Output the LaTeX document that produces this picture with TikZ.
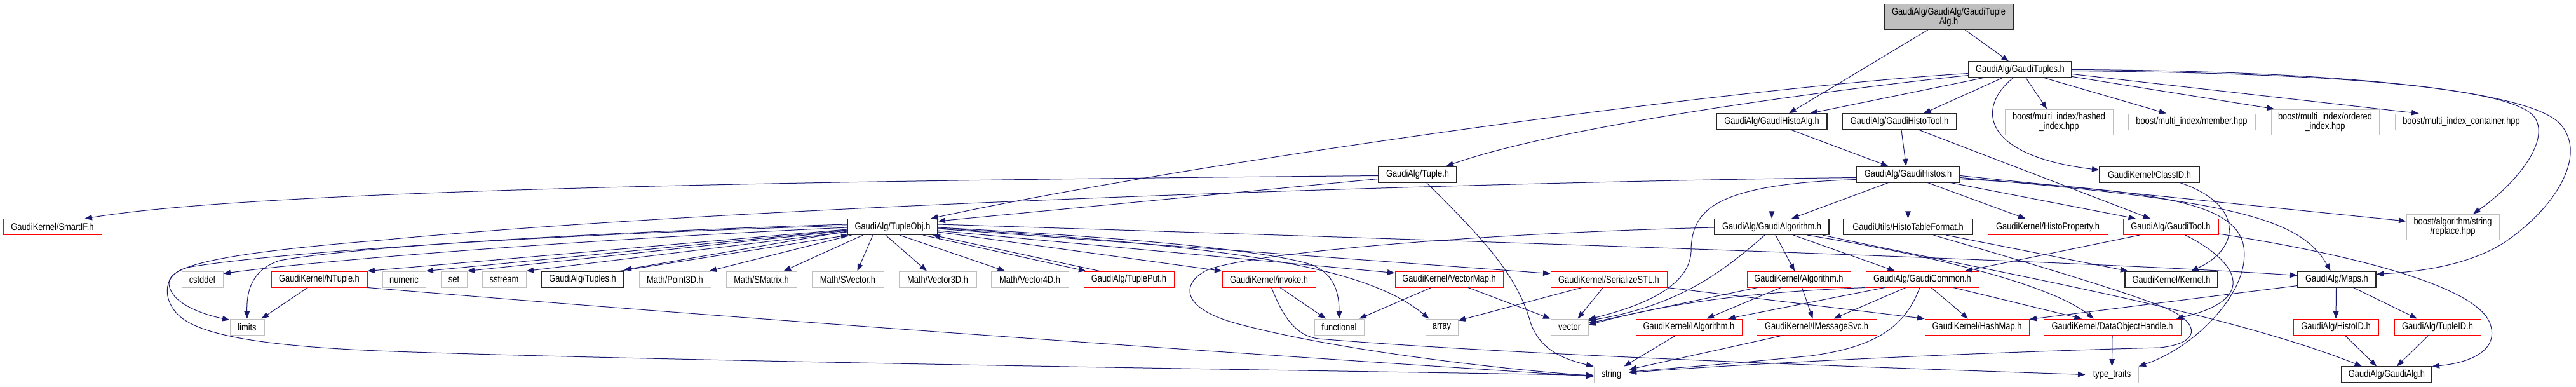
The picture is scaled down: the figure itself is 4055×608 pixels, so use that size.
\documentclass[tikz,border=0pt]{standalone}
\usepackage{fontspec}
\newfontfamily\dfont[FakeStretch=0.83]{Liberation Sans}
\usetikzlibrary{arrows.meta}
\definecolor{edgeblue}{RGB}{25,25,112}
\definecolor{extgray}{RGB}{191,191,191}
\begin{document}
\begin{tikzpicture}[x=1pt,y=-1pt,
 box/.style={draw, rectangle, inner sep=0pt, minimum height=25pt, font=\dfont\fontsize{15.5pt}{14.8pt}\selectfont, align=center, line width=1pt},
 doc/.style={box, draw=black!85, line width=1.1pt},
 trunc/.style={box, draw=red},
 ext/.style={box, draw=extgray},
 rootbox/.style={box, draw=black!85, fill=extgray, minimum height=40pt},
 dep/.style={draw=edgeblue, line width=1pt, -{Triangle[length=11.5pt,width=8.5pt]}},
]
\useasboundingbox (0,0) rectangle (4055,608);
% row A
\node[rootbox, minimum width=203pt] (root) at (3067.5,26.65) {GaudiAlg/GaudiAlg/GaudiTuple\\Alg.h};
% row B
\node[doc, minimum width=162pt] (tuples) at (3180,109.5) {GaudiAlg/GaudiTuples.h};
% row C
\node[doc, minimum width=174pt] (histoalg) at (2789,191.5) {GaudiAlg/GaudiHistoAlg.h};
\node[doc, minimum width=180pt] (histotool) at (2990,191.5) {GaudiAlg/GaudiHistoTool.h};
\node[ext, minimum width=170pt, minimum height=40pt] (hashed) at (3241,192) {boost/multi\_index/hashed\\\_index.hpp};
\node[ext, minimum width=200pt] (member) at (3450,191.5) {boost/multi\_index/member.hpp};
\node[ext, minimum width=170pt, minimum height=40pt] (ordered) at (3660,192) {boost/multi\_index/ordered\\\_index.hpp};
\node[ext, minimum width=209pt] (container) at (3874.5,191.5) {boost/multi\_index\_container.hpp};
% row D
\node[doc, minimum width=123pt] (tuple) at (2231.5,274.5) {GaudiAlg/Tuple.h};
\node[doc, minimum width=163pt] (histos) at (3003.5,274.5) {GaudiAlg/GaudiHistos.h};
\node[doc, minimum width=157pt] (classid) at (3383.5,274.5) {GaudiKernel/ClassID.h};
% row E
\node[trunc, minimum width=155pt] (smartif) at (82.5,357) {GaudiKernel/SmartIF.h};
\node[doc, minimum width=142pt] (tupleobj) at (1405,357) {GaudiAlg/TupleObj.h};
\node[doc, minimum width=180pt] (algorithm) at (2789,357) {GaudiAlg/GaudiAlgorithm.h};
\node[doc, minimum width=203pt] (htf) at (3003.5,357) {GaudiUtils/HistoTableFormat.h};
\node[trunc, minimum width=189pt] (histoprop) at (3223.5,357) {GaudiKernel/HistoProperty.h};
\node[trunc, minimum width=150pt] (gauditool) at (3417,357) {GaudiAlg/GaudiTool.h};
\node[ext, minimum width=146pt, minimum height=40pt] (replace) at (3861,357) {boost/algorithm/string\\/replace.hpp};
% row F
\node[ext, minimum width=65pt] (cstddef) at (318.5,439.5) {cstddef};
\node[trunc, minimum width=151pt] (ntuple) at (502.5,439.5) {GaudiKernel/NTuple.h};
\node[ext, minimum width=68pt] (numeric) at (636,439.5) {numeric};
\node[ext, minimum width=41pt] (set) at (714.5,439.5) {set};
\node[ext, minimum width=69pt] (sstream) at (793.5,439.5) {sstream};
\node[doc, minimum width=130pt] (tuplesh) at (917,439.5) {GaudiAlg/Tuples.h};
\node[ext, minimum width=113pt] (point3d) at (1062.5,439.5) {Math/Point3D.h};
\node[ext, minimum width=111pt] (smatrix) at (1198.5,439.5) {Math/SMatrix.h};
\node[ext, minimum width=113pt] (svector) at (1334.5,439.5) {Math/SVector.h};
\node[ext, minimum width=122pt] (vector3d) at (1476,439.5) {Math/Vector3D.h};
\node[ext, minimum width=122pt] (vector4d) at (1621,439.5) {Math/Vector4D.h};
\node[trunc, minimum width=142pt] (tupleput) at (1777,439.5) {GaudiAlg/TuplePut.h};
\node[trunc, minimum width=147pt] (invoke) at (1997.5,439.5) {GaudiKernel/invoke.h};
\node[trunc, minimum width=170pt] (vectormap) at (2281,439.5) {GaudiKernel/VectorMap.h};
\node[trunc, minimum width=183pt] (serialize) at (2532.5,439.5) {GaudiKernel/SerializeSTL.h};
\node[trunc, minimum width=163pt] (kalgorithm) at (2831.5,439.5) {GaudiKernel/Algorithm.h};
\node[trunc, minimum width=178pt] (common) at (3026,439.5) {GaudiAlg/GaudiCommon.h};
\node[doc, minimum width=146pt] (kernel) at (3418,439.5) {GaudiKernel/Kernel.h};
\node[doc, minimum width=123pt] (maps) at (3678.5,439.5) {GaudiAlg/Maps.h};
% row G
\node[ext, minimum width=54pt] (limits) at (389,514.5) {limits};
\node[ext, minimum width=78pt] (functional) at (2108,514.5) {functional};
\node[ext, minimum width=51pt] (array) at (2269.5,514.5) {array};
\node[ext, minimum width=59pt] (vector) at (2470.5,514.5) {vector};
\node[trunc, minimum width=167pt] (ialgorithm) at (2658.5,514.5) {GaudiKernel/IAlgorithm.h};
\node[trunc, minimum width=189pt] (imsgsvc) at (2859.5,514.5) {GaudiKernel/IMessageSvc.h};
\node[trunc, minimum width=164pt] (hashmap) at (3112,514.5) {GaudiKernel/HashMap.h};
\node[trunc, minimum width=216pt] (doh) at (3325,514.5) {GaudiKernel/DataObjectHandle.h};
\node[trunc, minimum width=134pt] (histoid) at (3677,514.5) {GaudiAlg/HistoID.h};
\node[trunc, minimum width=136pt] (tupleid) at (3837,514.5) {GaudiAlg/TupleID.h};
% row H
\node[ext, minimum width=55pt] (string) at (2536.5,589.5) {string};
\node[ext, minimum width=83pt] (typetraits) at (3324.5,589.5) {type\_traits};
\node[doc, minimum width=142pt] (gaudialg) at (3757,589.5) {GaudiAlg/GaudiAlg.h};

% edges from root
\draw[dep] ([xshift=-33pt]root.south) -- ([xshift=27pt]histoalg.north);
\draw[dep] ([xshift=26pt]root.south) -- ([xshift=-18pt]tuples.north);
% GaudiTuples
\draw[dep] ([yshift=-6pt]tuples.west) .. controls (2700,140) and (1850,260) .. ([xshift=60pt]tupleobj.north);
\draw[dep] ([yshift=-9pt]tuples.west) .. controls (2850,145) and (2450,200) .. ([xshift=45pt]tuple.north);
\draw[dep] ([xshift=-58pt]tuples.south) -- ([xshift=60pt]histoalg.north);
\draw[dep] ([xshift=-28pt]tuples.south) -- ([xshift=38pt]histotool.north);
\draw[dep] ([xshift=9pt]tuples.south) -- ([xshift=-19pt]hashed.north);
\draw[dep] ([xshift=-11pt]tuples.south) .. controls (3110,170) and (3120,245) .. ([yshift=7pt]classid.west);
\draw[dep] ([xshift=38pt]tuples.south) -- ([xshift=-40pt]member.north);
\draw[dep] ([yshift=-11pt]tuples.east) -- ([xshift=-80pt]ordered.north);
\draw[dep] ([yshift=-7pt]tuples.east) -- ([xshift=-67pt]container.north);
\draw[dep] ([yshift=-2pt]tuples.east) .. controls (3700,115) and (3960,140) .. (3990,185) .. controls (4015,222) and (3960,290) .. ([xshift=32pt]replace.north);
\draw[dep] (tuples.east) .. controls (3750,112) and (3990,150) .. (4030,195) .. controls (4075,245) and (4020,330) .. (3940,383) .. controls (3880,420) and (3800,428) .. ([yshift=8pt]maps.east);
% GaudiHistoAlg, GaudiHistoTool
\draw[dep] (histoalg.south) -- (algorithm.north);
\draw[dep] ([xshift=31pt]histoalg.south) -- ([xshift=-31pt]histos.north);
\draw[dep] ([xshift=3pt]histotool.south) -- ([xshift=-3pt]histos.north);
\draw[dep] ([xshift=31pt]histotool.south) -- ([xshift=-32pt]gauditool.north);
% GaudiHistos
\draw[dep] ([xshift=-31pt]histos.south) -- ([xshift=31pt]algorithm.north);
\draw[dep] (histos.south) -- (htf.north);
\draw[dep] ([xshift=31pt]histos.south) -- ([xshift=-35pt]histoprop.north);
\draw[dep] ([xshift=67pt]histos.south) -- ([xshift=-55pt]gauditool.north);
\draw[dep] ([yshift=-5pt]histos.east) .. controls (3500,315) and (3620,340) .. ([xshift=-10pt]maps.north);
\draw[dep] ([yshift=-2pt]histos.east) -- ([yshift=9pt]replace.west);
\draw[dep] ([yshift=-7pt]histos.east) .. controls (3400,300) and (3510,320) .. (3530,380) .. controls (3550,450) and (3460,545) .. (typetraits.north east);
\draw[dep] ([yshift=-8pt]histos.west) .. controls (2700,290) and (2665,330) .. (2662,390) .. controls (2665,455) and (2570,485) .. ([yshift=12pt]vector.east);
\draw[dep] ([yshift=-5pt]histos.west) .. controls (2400,285) and (1200,320) .. (600,378) .. controls (330,400) and (262,420) .. (266,448) .. controls (270,478) and (320,495) .. ([yshift=11pt]limits.west);
% Tuple.h
\draw[dep] ([yshift=-7pt]tuple.west) -- ([yshift=9pt]tupleobj.east);
\draw[dep] ([yshift=-2pt]tuple.west) .. controls (1200,285) and (400,300) .. ([xshift=51pt]smartif.north);
\draw[dep] ([xshift=14pt]tuple.south) .. controls (2350,390) and (2390,440) .. (2410,510) .. controls (2425,550) and (2460,565) .. (string.north west);
% TupleObj, left side
\draw[dep] ([yshift=2pt]tupleobj.west) .. controls (900,368) and (450,395) .. (300,420) .. controls (255,428) and (255,470) .. (280,495) .. controls (310,525) and (400,545) .. (620,553) .. controls (1100,570) and (2200,585) .. ([yshift=-1pt]string.west);
\draw[dep] ([yshift=4pt]tupleobj.west) .. controls (950,365) and (560,388) .. (440,410) .. controls (395,425) and (388,460) .. (limits.north);
\draw[dep] ([yshift=-1pt]tupleobj.west) .. controls (900,378) and (500,410) .. ([yshift=9pt]cstddef.east);
\draw[dep] ([yshift=-4pt]tupleobj.west) -- (ntuple.north east);
\draw[dep] ([yshift=-5pt]tupleobj.west) -- (numeric.north east);
\draw[dep] ([yshift=-6pt]tupleobj.west) -- (set.north east);
\draw[dep] ([yshift=-8pt]tupleobj.west) -- (sstream.north east);
\draw[dep] ([yshift=-7pt]tupleobj.west) -- ([yshift=2pt]tuplesh.north east);
\draw[dep] ([xshift=-7pt]tuplesh.north east) -- ([xshift=2pt]tupleobj.south west);
\draw[dep] ([xshift=7pt]tupleobj.south west) -- ([xshift=-3pt]point3d.north east);
\draw[dep] ([xshift=25pt]tupleobj.south west) -- ([xshift=35pt]smatrix.north);
\draw[dep] ([xshift=-31pt]tupleobj.south) -- ([xshift=15pt]svector.north);
\draw[dep] ([xshift=-11pt]tupleobj.south) -- ([xshift=-17pt]vector3d.north);
\draw[dep] ([xshift=11pt]tupleobj.south) -- ([xshift=-39pt]vector4d.north);
\draw[dep] ([xshift=48pt]tupleobj.south) -- ([xshift=4pt]tupleput.north west);
\draw[dep] ([xshift=-46pt]tupleput.north) -- ([xshift=-8pt]tupleobj.south east);
% TupleObj, right side
\draw[dep] ([yshift=-8pt]tupleobj.east) -- (invoke.north west);
\draw[dep] ([yshift=-6pt]tupleobj.east) -- ([yshift=10pt]vectormap.west);
\draw[dep] ([yshift=-3pt]tupleobj.east) -- ([yshift=9pt]serialize.west);
\draw[dep] ([yshift=-1pt]tupleobj.east) .. controls (1800,375) and (1990,395) .. (2060,415) .. controls (2100,428) and (2108,460) .. (functional.north);
\draw[dep] ([yshift=-2pt]tupleobj.east) .. controls (1950,388) and (2150,420) .. ([xshift=-20pt]array.north);
\draw[dep] ([yshift=4pt]tupleobj.east) .. controls (2500,385) and (3300,412) .. ([yshift=6pt]maps.west);
% NTuple, invoke, VectorMap, SerializeSTL
\draw[dep] ([xshift=-18pt]ntuple.south) -- ([xshift=-5pt]limits.north east);
\draw[dep] (ntuple.south east) .. controls (1200,505) and (2000,560) .. ([yshift=-3pt]string.west);
\draw[dep] ([xshift=17.5pt]invoke.south) -- ([xshift=-21pt]functional.north);
\draw[dep] ([xshift=4pt]invoke.south) .. controls (2020,500) and (2040,528) .. (2075,533) .. controls (2400,560) and (3000,580) .. (typetraits.west);
\draw[dep] ([xshift=-28pt]vectormap.south) -- ([xshift=-8pt]functional.north east);
\draw[dep] ([xshift=30pt]vectormap.south) -- (vector.north west);
\draw[dep] ([xshift=-42.5pt]serialize.south) -- ([yshift=10pt]array.east);
\draw[dep] ([xshift=-9pt]serialize.south) -- ([xshift=13pt]vector.north);
\draw[dep] (serialize.south east) -- (hashmap.north west);
% GaudiAlgorithm
\draw[dep] ([xshift=6pt]algorithm.south) -- ([xshift=-6.5pt]kalgorithm.north);
\draw[dep] ([xshift=-11pt]algorithm.south) .. controls (2720,420) and (2650,480) .. ([yshift=10pt]vector.east);
\draw[dep] ([xshift=34pt]algorithm.south) -- ([xshift=-43pt]common.north);
\draw[dep] ([xshift=56pt]algorithm.south) .. controls (3060,405) and (3230,450) .. ([xshift=-29pt]doh.north);
\draw[dep] ([xshift=80pt]algorithm.south) .. controls (3150,430) and (3500,490) .. ([xshift=-39pt]gaudialg.north);
\draw[dep] ([yshift=-1pt]algorithm.west) .. controls (2300,368) and (1960,400) .. (1900,425) .. controls (1860,445) and (1855,485) .. (1950,510) .. controls (2100,550) and (2350,580) .. ([yshift=-2pt]string.west);
% GaudiKernel/Algorithm.h
\draw[dep] ([xshift=-65pt]kalgorithm.south) -- ([yshift=6pt]vector.east);
\draw[dep] ([xshift=-28pt]kalgorithm.south) -- ([xshift=28pt]ialgorithm.north);
\draw[dep] ([xshift=5pt]kalgorithm.south) -- ([xshift=-6pt]imsgsvc.north);
% GaudiCommon
\draw[dep] (common.south west) .. controls (2800,458) and (2650,470) .. ([yshift=3pt]vector.east);
\draw[dep] ([xshift=-59pt]common.south) -- ([xshift=61.5pt]ialgorithm.north);
\draw[dep] ([xshift=-26pt]common.south) -- ([xshift=27pt]imsgsvc.north);
\draw[dep] ([xshift=-4pt]common.south) .. controls (3000,510) and (2960,545) .. (2850,560) .. controls (2700,575) and (2620,580) .. ([yshift=4pt]string.east);
\draw[dep] ([xshift=14pt]common.south) -- ([xshift=-14pt]hashmap.north);
\draw[dep] ([xshift=49pt]common.south) -- ([xshift=-48pt]doh.north);
% HistoTableFormat
\draw[dep] ([xshift=60pt]htf.south) -- ([xshift=5pt]kernel.north west);
\draw[dep] ([xshift=40pt]htf.south) .. controls (3250,430) and (3380,470) .. (3420,490) .. controls (3460,510) and (3465,540) .. (3400,547) .. controls (3100,555) and (2750,572) .. ([yshift=3pt]string.east);
% GaudiTool
\draw[dep] ([xshift=-49pt]gauditool.south) -- ([xshift=67pt]common.north);
\draw[dep] ([xshift=23pt]gauditool.south) .. controls (3520,410) and (3560,470) .. ([xshift=-8pt]doh.north east);
\draw[dep] ([yshift=-11pt]gauditool.east) .. controls (3700,400) and (3900,450) .. (3920,510) .. controls (3935,555) and (3880,572) .. (gaudialg.north east);
% ClassID
\draw[dep] ([xshift=48pt]classid.south) .. controls (3530,320) and (3530,390) .. ([xshift=31pt]kernel.north);
% Maps, HistoID, TupleID
\draw[dep] ([xshift=-1pt]maps.south) -- (histoid.north);
\draw[dep] ([xshift=26pt]maps.south) -- ([xshift=-32pt]tupleid.north);
\draw[dep] ([yshift=-10pt]maps.west) -- ([yshift=12pt]hashmap.east);
\draw[dep] ([xshift=14pt]histoid.south) -- ([xshift=-16pt]gaudialg.north);
\draw[dep] ([xshift=-14pt]tupleid.south) -- ([xshift=16pt]gaudialg.north);
% row G to row H
\draw[dep] ([xshift=-20pt]ialgorithm.south) -- ([xshift=20pt]string.north);
\draw[dep] ([xshift=-51.5pt]imsgsvc.south) -- ([yshift=8pt]string.east);
\draw[dep] (doh.south) -- (typetraits.north);
\end{tikzpicture}
\end{document}
